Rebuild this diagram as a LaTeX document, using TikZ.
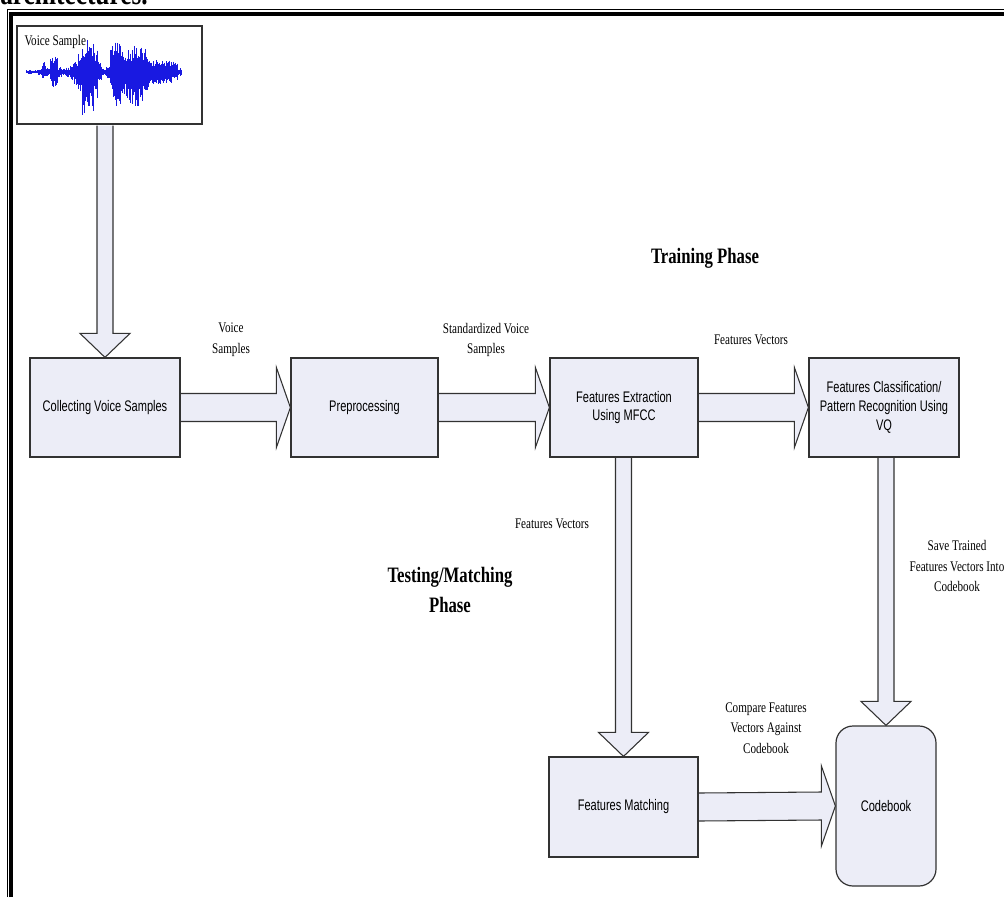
\documentclass[tikz,border=0pt]{standalone}
\usepackage{fontspec}
\setmainfont{Liberation Serif}[FakeStretch=0.76]
\newfontfamily\boxfont{Liberation Sans}[FakeStretch=0.72]
\usetikzlibrary{calc}
\definecolor{boxfill}{RGB}{236,237,247}
\definecolor{edge}{RGB}{50,50,50}
\definecolor{wavecol}{RGB}{25,25,225}
\tikzset{
  blk/.style={draw=edge, fill=boxfill, line width=0.9pt, align=center,
              font=\boxfont\fontsize{11.5}{14}\selectfont, inner sep=2pt},
  fat/.style={fill=boxfill, draw=edge, line width=0.8pt, line join=miter},
  lbl/.style={font=\fontsize{11}{15.5}\selectfont, align=center, inner sep=1pt},
  phase/.style={font=\bfseries\fontsize{16.5}{23}\selectfont, align=center, inner sep=1pt},
  wave/.style={wavecol, line width=0.6pt},
}
\newcommand{\hfat}[2]{%
  \path[fat] ($(#1.east)+(0.6,-14)$) -- ($(#2.west)+(-14,-14)$) -- ($(#2.west)+(-14,-40)$)
    -- (#2.west) -- ($(#2.west)+(-14,40)$) -- ($(#2.west)+(-14,14)$) -- ($(#1.east)+(0.6,14)$);}
\newcommand{\vfat}[2]{%
  \path[fat] ($(#1.south -| #2.north)+(-8,0.6)$) -- ($(#2.north)+(-8,-24)$) -- ($(#2.north)+(-25,-24)$)
    -- (#2.north) -- ($(#2.north)+(25,-24)$) -- ($(#2.north)+(8,-24)$) -- ($(#1.south -| #2.north)+(8,0.6)$);}

\begin{document}
\begin{tikzpicture}[x=0.75pt, y=-0.75pt]
  \useasboundingbox (0,0) rectangle (1004,897);
  \draw[line width=0.75pt] (7,897) -- (7,9) -- (1004,9);
  \draw[line width=3pt] (11,897) -- (11,14) -- (1004,14);
  \node[anchor=base west, inner sep=0, font=\bfseries\fontsize{25}{25}\selectfont] (head) at (0,4.5) {architectures.};

  \node[draw=edge, fill=white, line width=1.5pt, minimum width=138.75pt, minimum height=73.5pt] (voice) at (109.5,75) {};
  \pgfmathsetseed{7}
  \foreach \xs/\ua/\da in {26/2/2,30/2/2,34/2/2,38/3/3,42/10/7,46/4/4,50/16/15,54/16/16,58/5/5,62/4/4,
                           66/5/5,70/9/9,74/13/14,78/22/28,82/31/44,86/34/48,90/31/42,94/24/28,98/11/11,
                           102/4/4,106/7/7,110/27/25,114/42/40,118/33/33,122/22/24,126/24/28,130/24/32,
                           134/26/35,138/27/37,142/24/30,146/18/22,150/11/13,154/12/12,158/13/13,
                           162/13/13,166/12/12,170/11/11,174/9/9,178/4/4}{
    \foreach \k in {0,1,2,3}{
      \pgfmathsetmacro\up{\ua*(0.45+0.55*rnd)}
      \pgfmathsetmacro\dn{\da*(0.45+0.55*rnd)}
      \draw[wave] (\xs+\k,72-\up) -- (\xs+\k,72+\dn);
    }
  }
  \node[lbl, anchor=base west] (vlab) at (23,45) {Voice Sample};

  \node[blk, minimum width=112.5pt, minimum height=74.25pt] (coll) at (105,407.5) {Collecting Voice Samples};
  \node[blk, minimum width=110.25pt, minimum height=74.25pt] (prep) at (364.5,407.5) {Preprocessing};
  \node[blk, minimum width=111pt, minimum height=74.25pt] (fext) at (624,407.5) {Features Extraction\\Using MFCC};
  \node[blk, minimum width=112.5pt, minimum height=74.25pt] (fcls) at (884,407.5) {Features Classification/\\Pattern Recognition Using\\VQ};
  \node[blk, minimum width=111.75pt, minimum height=75pt] (fmat) at (623.5,807) {Features Matching};
  \node[blk, rounded corners=12.75pt, minimum width=75pt, minimum height=120pt] (cbk) at (886,806) {Codebook};

  \vfat{voice}{coll}
  \hfat{coll}{prep}
  \hfat{prep}{fext}
  \hfat{fext}{fcls}
  \vfat{fext}{fmat}
  \vfat{fcls}{cbk}
  \hfat{fmat}{cbk}

  \node[lbl] (lvs) at (231,340) {Voice\\Samples};
  \node[lbl] (lsv) at (486,340) {Standardized Voice\\Samples};
  \node[lbl] (lfv) at (751,340) {Features Vectors};
  \node[lbl] (lfv2) at (552,524) {Features Vectors};
  \node[lbl] (lsave) at (957,566) {Save Trained\\Features Vectors Into\\Codebook};
  \node[lbl] (lcmp) at (766,728) {Compare Features\\Vectors Against\\Codebook};
  \node[phase] (ptrain) at (705,258) {Training Phase};
  \node[phase] (ptest) at (450,590) {Testing/Matching\\Phase};
\end{tikzpicture}
\end{document}
